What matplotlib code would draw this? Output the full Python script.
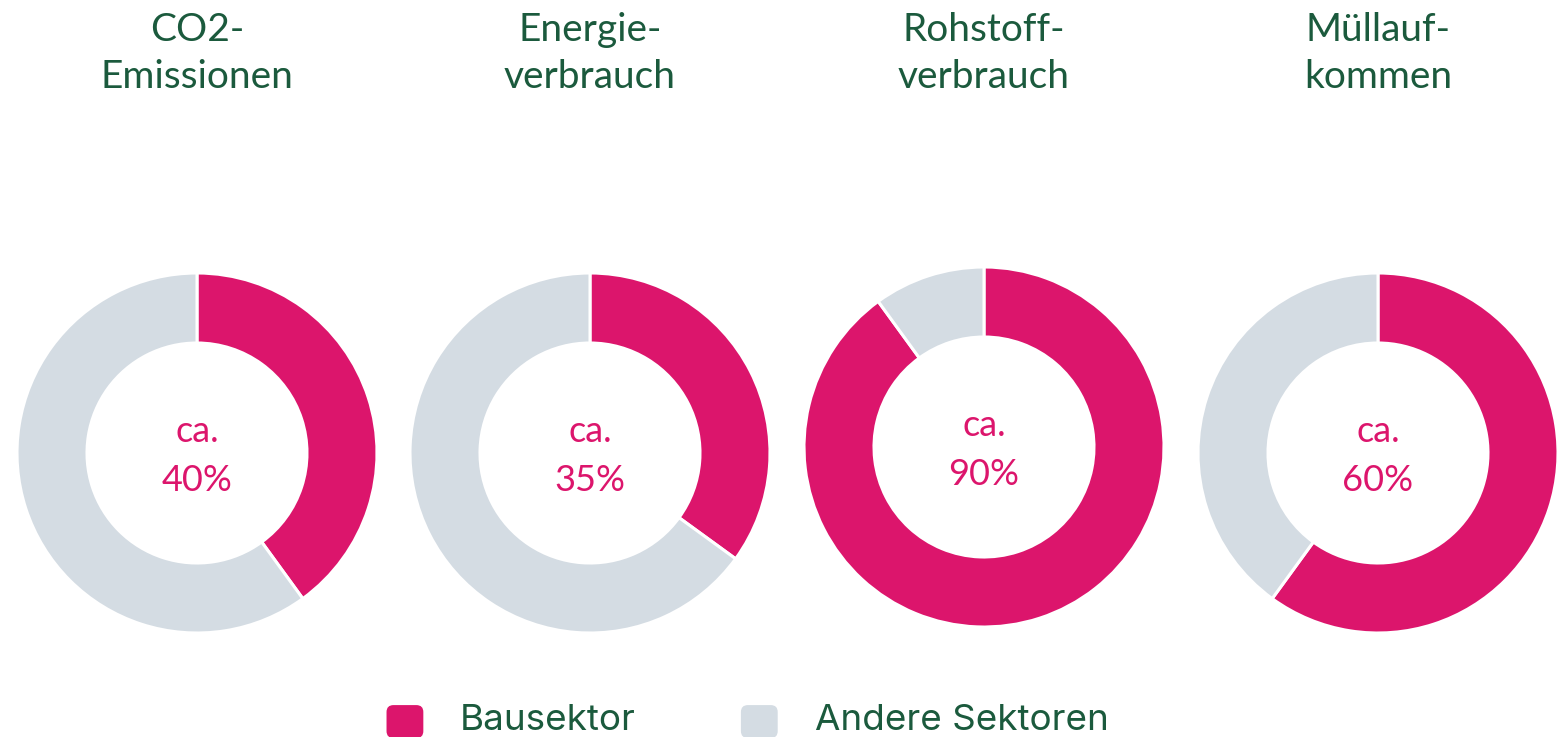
import matplotlib
matplotlib.use('Agg')
import matplotlib.pyplot as plt
from matplotlib.patches import Patch, FancyBboxPatch
from matplotlib.legend_handler import HandlerPatch

# data
titles = ["CO2-\nEmissionen", "Energie-\nverbrauch", "Rohstoff-\nverbrauch", "Müllauf-\nkommen"]
bau_share = [40, 35, 90, 60]
labels = ["Bausektor", "Andere Sektoren"]

MAGENTA = '#DC156C'
GREY = '#D4DCE3'
GREEN = '#1B5A3D'

W, H = 1567, 737
fig = plt.figure(figsize=(W / 100, H / 100), dpi=100)
ax = fig.add_axes([0, 0, 1, 1])

centers_x = [197, 590, 984, 1378]
centers_y = [284, 284, 290, 284]
R = 180

for i, share in enumerate(bau_share):
    cx, cy = centers_x[i], centers_y[i]
    ax.pie([share, 100 - share], colors=[MAGENTA, GREY], startangle=90,
           counterclock=False, center=(cx, cy), radius=R, frame=True,
           wedgeprops=dict(width=70, edgecolor='white', linewidth=2.2))
    ax.text(cx, cy - 3, "ca.\n%d%%" % share, ha='center', va='center',
            color=MAGENTA, fontsize=26, family='Lato', linespacing=1.62)
    ax.text(cx, H - 12, titles[i], ha='center', va='top', color=GREEN,
            fontsize=28, family='Lato', linespacing=1.37)

ax.set_xlim(0, W)
ax.set_ylim(0, H)
ax.set_aspect('equal')
ax.axis('off')


class RoundBox(HandlerPatch):
    def create_artists(self, legend, orig_handle, xdescent, ydescent,
                       width, height, fontsize, trans):
        p = FancyBboxPatch((-xdescent, -ydescent - 3), width, height,
                           boxstyle='round,pad=0,rounding_size=5',
                           facecolor=orig_handle.get_facecolor(),
                           edgecolor='none', transform=trans)
        return [p]


handles = [Patch(facecolor=MAGENTA), Patch(facecolor=GREY)]
leg = fig.legend(handles, labels, loc='lower center', bbox_to_anchor=(0.477, 0.0),
                 ncol=2, frameon=False, handler_map={Patch: RoundBox()},
                 prop={'family': 'Inter', 'size': 26.5}, handlelength=1.0,
                 handleheight=1.0, handletextpad=1.0, columnspacing=2.85,
                 borderpad=0.0, borderaxespad=0.0)
for t in leg.get_texts():
    t.set_color(GREEN)

fig.savefig('out.png', dpi=100)
